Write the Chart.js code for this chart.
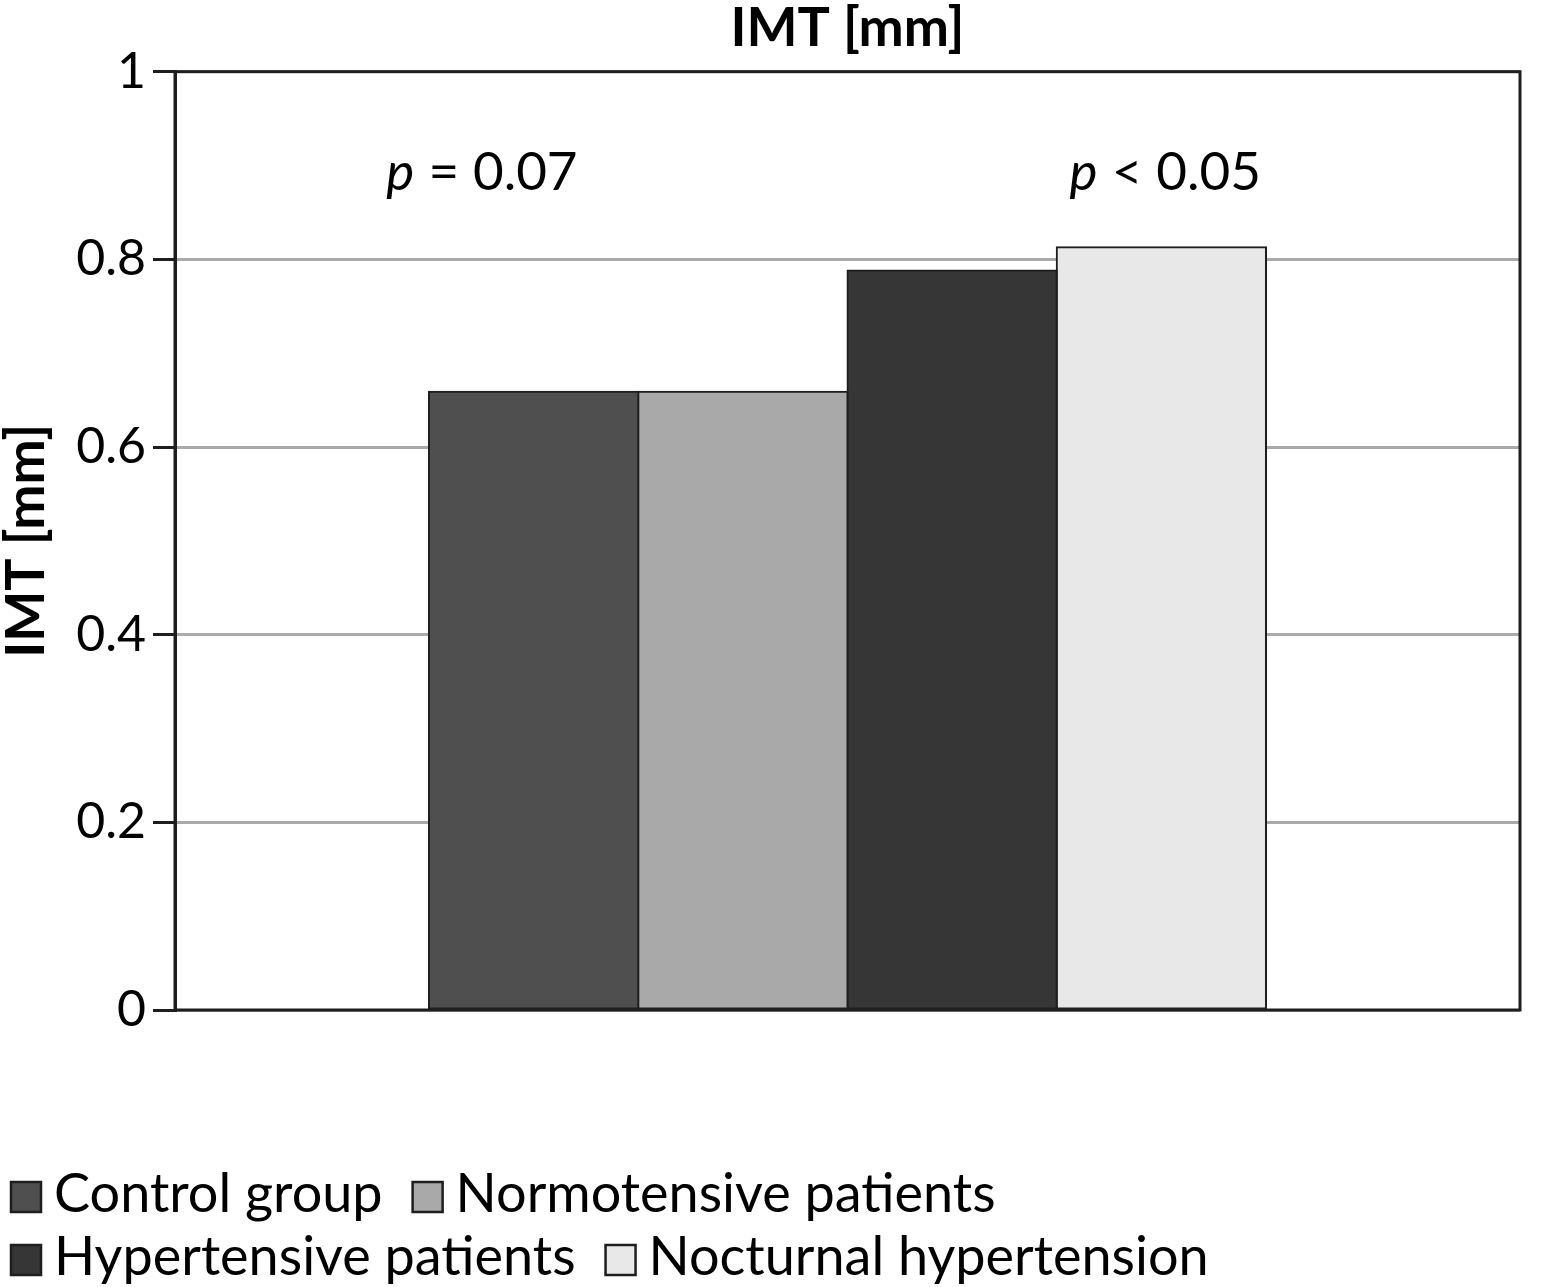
<!DOCTYPE html>
<html>
<head>
<meta charset="utf-8">
<script src="https://cdn.jsdelivr.net/npm/chart.js@4/dist/chart.umd.min.js"></script>
<style>
  html, body { margin: 0; padding: 0; background: #ffffff; }
  #wrap { width: 1550px; height: 1287px; position: relative; }
</style>
</head>
<body>
<div id="wrap"><canvas id="c" width="1550" height="1287"></canvas></div>
<script>
// ---- data ----
const categories = ['IMT [mm]'];
const seriesNames = ['Control group', 'Normotensive patients', 'Hypertensive patients', 'Nocturnal hypertension'];
const controlValues = [0.659];
const normotensiveValues = [0.659];
const hypertensiveValues = [0.788];
const nocturnalValues = [0.813];
const yTickValues = [0, 0.2, 0.4, 0.6, 0.8, 1];
const pTexts = ['= 0.07', '< 0.05'];
const seriesColors = ['#4f4f4f', '#a9a9a9', '#363636', '#e8e8e8'];

const FONT = 'Lato, "Open Sans", "DejaVu Sans", sans-serif';
const INK = '#1e1e1e';

const seriesValues = [controlValues, normotensiveValues, hypertensiveValues, nocturnalValues];

const framePlugin = {
  id: 'frame',
  afterDatasetsDraw(chart) {
    const { ctx, chartArea: a } = chart;
    ctx.save();
    ctx.strokeStyle = INK;
    ctx.lineWidth = 3;
    ctx.strokeRect(a.left, a.top, a.right - a.left, a.bottom - a.top);
    ctx.restore();
  }
};

const pPlugin = {
  id: 'pvalues',
  afterDraw(chart) {
    const { ctx, chartArea: a, scales } = chart;
    const yPix = scales.y.getPixelForValue(0.8736);
    const xFracs = [0.157, 0.665];
    ctx.save();
    ctx.fillStyle = '#000';
    ctx.textBaseline = 'alphabetic';
    ctx.textAlign = 'left';
    pTexts.forEach((t, i) => {
      let x = a.left + xFracs[i] * (a.right - a.left);
      ctx.font = 'italic 53px ' + FONT;
      ctx.fillText('p', x, yPix);
      x += ctx.measureText('p ').width + 2;
      ctx.font = '53px ' + FONT;
      ctx.fillText(t, x, yPix);
    });
    ctx.restore();
  }
};

const legendPlugin = {
  id: 'customLegend',
  afterDraw(chart) {
    const { ctx } = chart;
    const box = 30, gapText = 13, gapItem = 30, maxW = 1250;
    const startX = 11, rowBase = [1212, 1275];
    ctx.save();
    ctx.font = '54px ' + FONT;
    ctx.textBaseline = 'alphabetic';
    ctx.textAlign = 'left';
    let x = startX, row = 0;
    chart.data.datasets.forEach((ds, i) => {
      const w = box + gapText + ctx.measureText(ds.label).width;
      if (x > startX && x + w > maxW) { row++; x = startX; }
      const base = rowBase[row] !== undefined ? rowBase[row] : rowBase[0] + row * 63;
      ctx.fillStyle = ds.backgroundColor;
      ctx.fillRect(x, base - box, box, box);
      ctx.strokeStyle = INK;
      ctx.lineWidth = 2.5;
      ctx.strokeRect(x, base - box, box, box);
      ctx.fillStyle = '#000';
      ctx.fillText(ds.label, x + box + gapText, base);
      x += w + gapItem;
    });
    ctx.restore();
  }
};

new Chart(document.getElementById('c'), {
  type: 'bar',
  data: {
    labels: categories,
    datasets: seriesNames.map((name, i) => ({
      label: name,
      data: seriesValues[i],
      backgroundColor: seriesColors[i],
      borderColor: INK,
      borderWidth: 2,
      borderSkipped: false,
      inflateAmount: 1,
      barPercentage: 1.0,
      categoryPercentage: 0.6223
    }))
  },
  options: {
    responsive: false,
    animation: false,
    devicePixelRatio: 1,
    layout: { padding: { left: 0, right: 30, top: 0, bottom: 0 } },
    plugins: {
      legend: { display: false },
      tooltip: { enabled: false },
      title: {
        display: true,
        fullSize: false,
        text: 'IMT [mm]',
        color: '#000',
        font: { family: FONT, size: 54, weight: 'bold', lineHeight: 1.05 },
        padding: { top: 0, bottom: 15 }
      }
    },
    scales: {
      x: {
        grid: { display: false },
        border: { display: false },
        ticks: { display: false },
        afterFit(scale) { scale.height = 277; }
      },
      y: {
        min: 0,
        max: 1,
        afterBuildTicks(scale) { scale.ticks = yTickValues.map(v => ({ value: v })); },
        afterFit(scale) { scale.width = 175; },
        grid: {
          color: '#aaaaaa',
          lineWidth: 3,
          tickColor: INK,
          tickLength: 22,
          drawTicks: true
        },
        border: { display: true, color: INK, width: 3 },
        ticks: {
          color: '#000',
          padding: 7,
          font: { family: FONT, size: 50 },
          callback: v => String(Math.round(v * 10) / 10)
        },
        title: {
          display: true,
          text: 'IMT [mm]',
          color: '#000',
          font: { family: FONT, size: 54, weight: 'bold', lineHeight: 1.0 },
          padding: { top: 0, bottom: 0 }
        }
      }
    }
  },
  plugins: [framePlugin, pPlugin, legendPlugin]
});
</script>
</body>
</html>
